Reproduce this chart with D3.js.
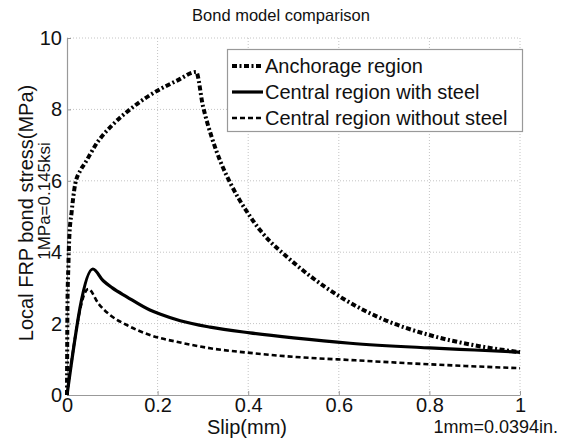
<!DOCTYPE html>
<html><head><meta charset="utf-8">
<script src="https://cdn.jsdelivr.net/npm/d3@7"></script>
<style>
html,body{margin:0;padding:0;background:#fff;}
svg{display:block;font-family:"Liberation Sans",Arial,sans-serif;}
</style></head>
<body><svg id="c" width="563" height="443"></svg>
<script>
const title = "Bond model comparison";
const xTicks = [0, 0.2, 0.4, 0.6, 0.8, 1];
const yTicks = [0, 2, 4, 6, 8, 10];
const seriesNames = ["Anchorage region", "Central region with steel", "Central region without steel"];

const anchorX = [0, 0.001, 0.003, 0.005, 0.01, 0.018, 0.03, 0.04, 0.066, 0.1, 0.139, 0.183, 0.245, 0.285, 0.3, 0.32, 0.34, 0.36, 0.38, 0.4, 0.426, 0.45, 0.481, 0.54, 0.603, 0.698, 0.8, 0.905, 1];
const anchorY = [0, 2.5, 3.6, 4.4, 5.1, 5.9, 6.3, 6.5, 7.06, 7.56, 8.0, 8.4, 8.82, 9.05, 8.1, 7.2, 6.5, 5.95, 5.48, 5.08, 4.62, 4.28, 3.92, 3.3, 2.75, 2.12, 1.68, 1.38, 1.2];

const steelX = [0, 0.057, 0.08, 0.1, 0.132, 0.183, 0.205, 0.25, 0.316, 0.404, 0.5, 0.625, 0.8, 0.9, 1];
const steelY = [0, 3.53, 3.2, 3.0, 2.75, 2.38, 2.27, 2.08, 1.9, 1.74, 1.6, 1.45, 1.32, 1.26, 1.2];

const noSteelX = [0, 0.047, 0.07, 0.095, 0.132, 0.183, 0.25, 0.316, 0.404, 0.5, 0.625, 0.8, 1];
const noSteelY = [0, 2.97, 2.55, 2.24, 1.96, 1.68, 1.47, 1.31, 1.18, 1.07, 0.98, 0.86, 0.75];

const svg = d3.select("#c");
const L = 67, R = 520, T = 38, B = 395;
const x = d3.scaleLinear().domain([0, 1]).range([L, R]);
const y = d3.scaleLinear().domain([0, 10]).range([B, T]);

// grid
const grid = svg.append("g").attr("stroke", "#c4c4c4").attr("stroke-width", 1).attr("stroke-dasharray", "1,2");
xTicks.filter(d => d > 0).forEach(d => grid.append("line").attr("x1", x(d)).attr("x2", x(d)).attr("y1", T).attr("y2", B));
yTicks.filter(d => d > 0).forEach(d => grid.append("line").attr("x1", L).attr("x2", R).attr("y1", y(d)).attr("y2", y(d)));

// axes
const xa = svg.append("g").attr("transform", `translate(0,${B})`)
  .call(d3.axisBottom(x).tickValues(xTicks).tickFormat(d3.format("")).tickSizeInner(-4).tickSizeOuter(0).tickPadding(3));
const ya = svg.append("g").attr("transform", `translate(${L},0)`)
  .call(d3.axisLeft(y).tickValues(yTicks).tickFormat(d3.format("")).tickSizeInner(-4).tickSizeOuter(0).tickPadding(5));
[xa, ya].forEach(a => {
  a.select(".domain").attr("stroke", "#999").attr("stroke-width", 1.2);
  a.selectAll(".tick line").attr("stroke", "#999");
  a.selectAll(".tick text").attr("font-size", 20).attr("fill", "#111").attr("font-family", "Liberation Sans, Arial, sans-serif");
});
xa.selectAll(".tick text").attr("dy", "0.71em");

// lines
const line = d3.line().x(d => x(d[0])).y(d => y(d[1])).curve(d3.curveMonotoneX);
const zip = (a, b) => a.map((v, i) => [v, b[i]]);
const styles = [
  {w: 4, dash: "5,2.5,2,2.5"},
  {w: 3.2, dash: null},
  {w: 2.6, dash: "5,3"}
];
const data = [zip(anchorX, anchorY), zip(steelX, steelY), zip(noSteelX, noSteelY)];
data.forEach((d, i) => {
  svg.append("path").datum(d).attr("d", line).attr("fill", "none").attr("stroke", "#000")
    .attr("stroke-width", styles[i].w).attr("stroke-dasharray", styles[i].dash).attr("stroke-linejoin", "round");
});

// legend
const lg = svg.append("g");
lg.append("rect").attr("x", 227.5).attr("y", 49.5).attr("width", 295).attr("height", 82)
  .attr("fill", "#fff").attr("stroke", "#999").attr("stroke-width", 1.2);
const rowY = [66, 92, 118];
seriesNames.forEach((n, i) => {
  lg.append("line").attr("x1", 232).attr("x2", 263).attr("y1", rowY[i]).attr("y2", rowY[i])
    .attr("stroke", "#000").attr("stroke-width", styles[i].w).attr("stroke-dasharray", styles[i].dash);
  lg.append("text").attr("x", 265).attr("y", rowY[i]).attr("dy", "0.35em").attr("font-size", 20).attr("fill", "#111").text(n);
});

// title and labels
svg.append("text").attr("x", 281).attr("y", 21).attr("text-anchor", "middle").attr("font-size", 16.5).attr("fill", "#111").text(title);
svg.append("text").attr("x", 247).attr("y", 434).attr("text-anchor", "middle").attr("font-size", 20).attr("fill", "#111").text("Slip(mm)");
svg.append("text").attr("x", 558).attr("y", 433).attr("text-anchor", "end").attr("font-size", 18).attr("fill", "#111").text("1mm=0.0394in.");
svg.append("text").attr("transform", "translate(33,213) rotate(-90)").attr("text-anchor", "middle").attr("font-size", 20).attr("fill", "#111").text("Local FRP bond stress(MPa)");
svg.append("text").attr("transform", "translate(50,201) rotate(-90)").attr("text-anchor", "middle").attr("font-size", 17).attr("fill", "#111").text("1MPa=0.145ksi");
</script></body></html>
